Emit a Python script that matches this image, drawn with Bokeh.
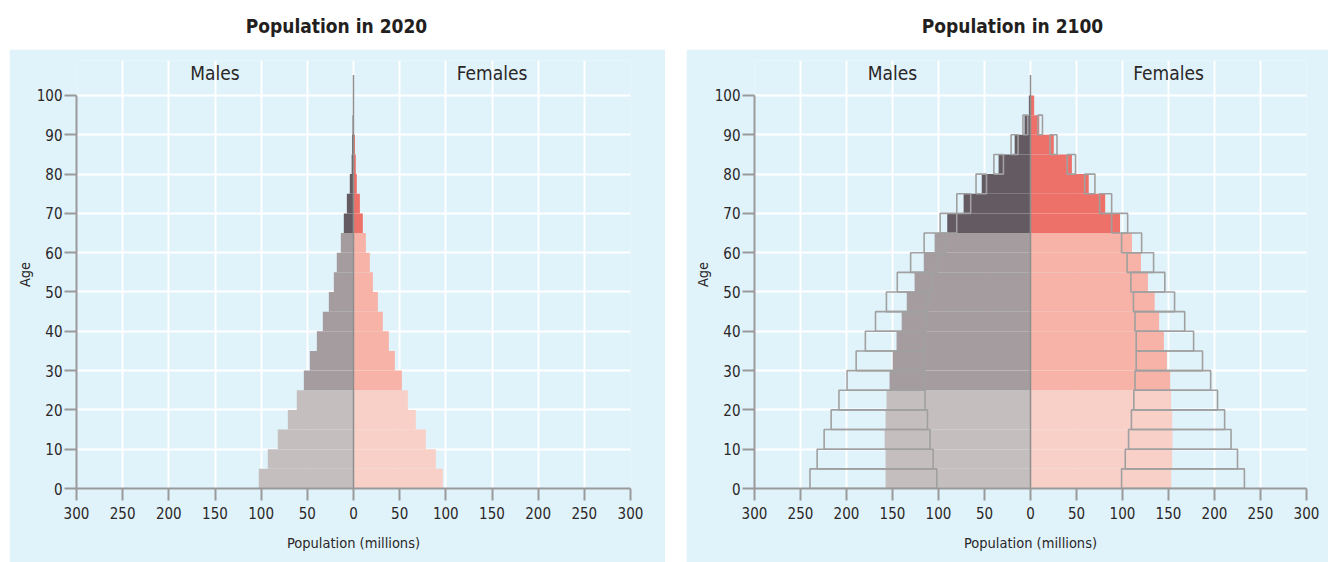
from bokeh.plotting import figure
from bokeh.models import Range1d, FixedTicker, Spacer, ColumnDataSource
from bokeh.layouts import column, row
from bokeh.core.properties import value
from bokeh.embed import file_html
from bokeh.resources import INLINE

nan = float("nan")

# ---- data -------------------------------------------------------------
age_groups = ["0-4", "5-9", "10-14", "15-19", "20-24", "25-29", "30-34", "35-39",
              "40-44", "45-49", "50-54", "55-59", "60-64", "65-69", "70-74", "75-79",
              "80-84", "85-89", "90-94", "95-99"]
age_start = [0, 5, 10, 15, 20, 25, 30, 35, 40, 45, 50, 55, 60, 65, 70, 75, 80, 85, 90, 95]

male_2020 = [102.6, 92.8, 82.0, 71.1, 61.4, 53.8, 47.3, 39.7, 33.2, 26.7,
             21.3, 18.1, 13.7, 10.5, 7.2, 4.0, 2.0, 1.5, 1.0, 0.0]
female_2020 = [96.8, 89.2, 78.4, 67.5, 58.9, 52.4, 44.8, 38.3, 31.8, 26.4,
               21.0, 17.7, 13.4, 10.1, 6.9, 3.6, 2.5, 1.6, 0.0, 0.0]

male_2100 = [157.5, 157.5, 158.5, 157.5, 156.5, 153.2, 149.8, 145.6, 140.0, 134.5,
             126.0, 116.0, 104.2, 90.5, 72.7, 53.0, 34.7, 17.2, 6.5, 1.8]
male_2100_low = [101.8, 105.8, 109.2, 112.0, 114.6, 115.3, 115.3, 115.3, 113.4, 111.5,
                 107.2, 101.4, 91.8, 80.2, 65.0, 47.8, 29.4, 13.5, 3.0, nan]
male_2100_high = [239.7, 231.9, 224.3, 216.7, 208.2, 199.4, 189.5, 179.5, 168.5, 156.6,
                  144.8, 130.3, 115.6, 98.2, 80.1, 59.2, 39.8, 21.1, 8.2, nan]

female_2100 = [153.0, 154.0, 154.3, 154.0, 152.8, 151.8, 148.3, 145.0, 139.8, 135.0,
               127.6, 120.1, 110.3, 97.3, 81.2, 63.3, 45.0, 25.3, 9.5, 4.0]
female_2100_low = [99.0, 103.0, 106.6, 109.7, 112.3, 113.6, 114.9, 114.9, 113.6, 111.9,
                   109.1, 105.0, 99.0, 88.2, 75.1, 58.9, 39.8, 21.2, 8.0, nan]
female_2100_high = [232.5, 225.0, 218.0, 211.0, 203.3, 195.8, 187.0, 177.3, 167.6, 156.6,
                    146.0, 133.8, 120.8, 105.6, 88.2, 70.0, 49.0, 28.8, 13.0, nan]

x_ticks = [-300, -250, -200, -150, -100, -50, 0, 50, 100, 150, 200, 250, 300]
y_ticks = [0, 10, 20, 30, 40, 50, 60, 70, 80, 90, 100]
side_labels = ["Males", "Females"]
titles = ["Population in 2020", "Population in 2100"]

# ---- style ------------------------------------------------------------
FONT = "'Liberation Sans Narrow', 'DejaVu Sans Condensed', 'Roboto Condensed', 'Open Sans', sans-serif"
BG = "#e0f3fa"
TXT = "#2b2627"
AX = "#9a9a9a"
BOX = "#a0a0a0"
MALE_COLS = ["#c4bebf", "#a59ca0", "#645b62"]
FEMALE_COLS = ["#f9d0c8", "#f7b3a7", "#ed7069"]


def band(a):
    return 0 if a < 25 else (1 if a < 65 else 2)


def make_panel(male, female, male_lo=None, male_hi=None, fem_lo=None, fem_hi=None,
               width=656, left_border=67, right_border=35):
    p = figure(width=width, height=513, x_range=Range1d(-300, 300),
               y_range=Range1d(0, 108.9), output_backend="svg",
               toolbar_location=None, min_border_left=left_border,
               min_border_right=right_border, min_border_top=11,
               min_border_bottom=74)
    p.background_fill_color = BG
    p.border_fill_color = BG
    p.outline_line_color = None

    ymid = [a + 2.5 for a in age_start]
    src = ColumnDataSource(dict(
        y=ymid, age=age_groups,
        mleft=[-m for m in male], zero=[0] * len(male), fright=female,
        mcol=[MALE_COLS[band(a)] for a in age_start],
        fcol=[FEMALE_COLS[band(a)] for a in age_start]))
    p.hbar(y="y", height=5, left="mleft", right="zero", source=src,
           fill_color="mcol", line_color=None)
    p.hbar(y="y", height=5, left="zero", right="fright", source=src,
           fill_color="fcol", line_color=None)

    if male_lo is not None:
        bsrc = ColumnDataSource(dict(
            y=ymid,
            ml=[-v for v in male_hi], mr=[-v for v in male_lo],
            fl=fem_lo, fr=fem_hi))
        p.hbar(y="y", height=5, left="ml", right="mr", source=bsrc,
               fill_color=None, line_color=BOX, line_width=1.6)
        p.hbar(y="y", height=5, left="fl", right="fr", source=bsrc,
               fill_color=None, line_color=BOX, line_width=1.6)

    # centre line
    p.segment(x0=[0], y0=[0], x1=[0], y1=[105.2], line_color="#8e8e8e", line_width=1.5)

    p.text(x=[-150, 150], y=[105.6, 105.6], text=side_labels, text_align="center",
           text_baseline="middle", text_font=value(FONT), text_font_size="19px",
           text_color=TXT)

    # grids
    p.xgrid.ticker = FixedTicker(ticks=x_ticks)
    p.ygrid.ticker = FixedTicker(ticks=y_ticks)
    for g in (p.xgrid, p.ygrid):
        g.grid_line_color = "white"
        g.grid_line_width = 2
    p.xgrid.bounds = (0, 100)
    p.ygrid.bounds = (-300, 300)

    # axes
    p.xaxis.ticker = FixedTicker(ticks=x_ticks)
    p.xaxis.major_label_overrides = {t: str(abs(t)) for t in x_ticks}
    p.yaxis.ticker = FixedTicker(ticks=y_ticks)
    p.yaxis.bounds = (0, 100)
    p.xaxis.axis_label = "Population (millions)"
    p.yaxis.axis_label = "Age"
    for ax in (p.xaxis[0], p.yaxis[0]):
        ax.axis_line_color = AX
        ax.axis_line_width = 2
        ax.major_tick_line_color = AX
        ax.major_tick_line_width = 2
        ax.major_tick_out = 12
        ax.major_tick_in = 0
        ax.minor_tick_line_color = None
        ax.major_label_text_font = FONT
        ax.major_label_text_font_size = "15px"
        ax.major_label_text_color = TXT
        ax.axis_label_text_font = FONT
        ax.axis_label_text_font_size = "14.5px"
        ax.axis_label_text_font_style = "normal"
        ax.axis_label_text_color = TXT
    p.xaxis.major_label_standoff = 6
    p.xaxis.axis_label_standoff = 13
    p.yaxis.major_label_standoff = 2
    p.yaxis.axis_label_standoff = 1
    return p


left = make_panel(male_2020, female_2020, width=656, left_border=67, right_border=35)
right = make_panel(male_2100, female_2100, male_2100_low, male_2100_high,
                   female_2100_low, female_2100_high, width=642,
                   left_border=68, right_border=22)

# title strip
t = figure(width=1328, height=49, x_range=Range1d(0, 1328), y_range=Range1d(0, 49),
           output_backend="svg", toolbar_location=None, min_border=0)
t.axis.visible = False
t.grid.visible = False
t.outline_line_color = None
t.background_fill_color = "white"
t.border_fill_color = "white"
t.text(x=[336, 1012], y=[24, 24], text=titles, text_align="center",
       text_baseline="middle", text_font=value(FONT), text_font_size="19px",
       text_font_style="bold", text_color="#231f20")

layout = column(t, row(Spacer(width=9, height=513), left,
                       Spacer(width=21, height=513), right))

open("out.html", "w").write(file_html(layout, INLINE))
